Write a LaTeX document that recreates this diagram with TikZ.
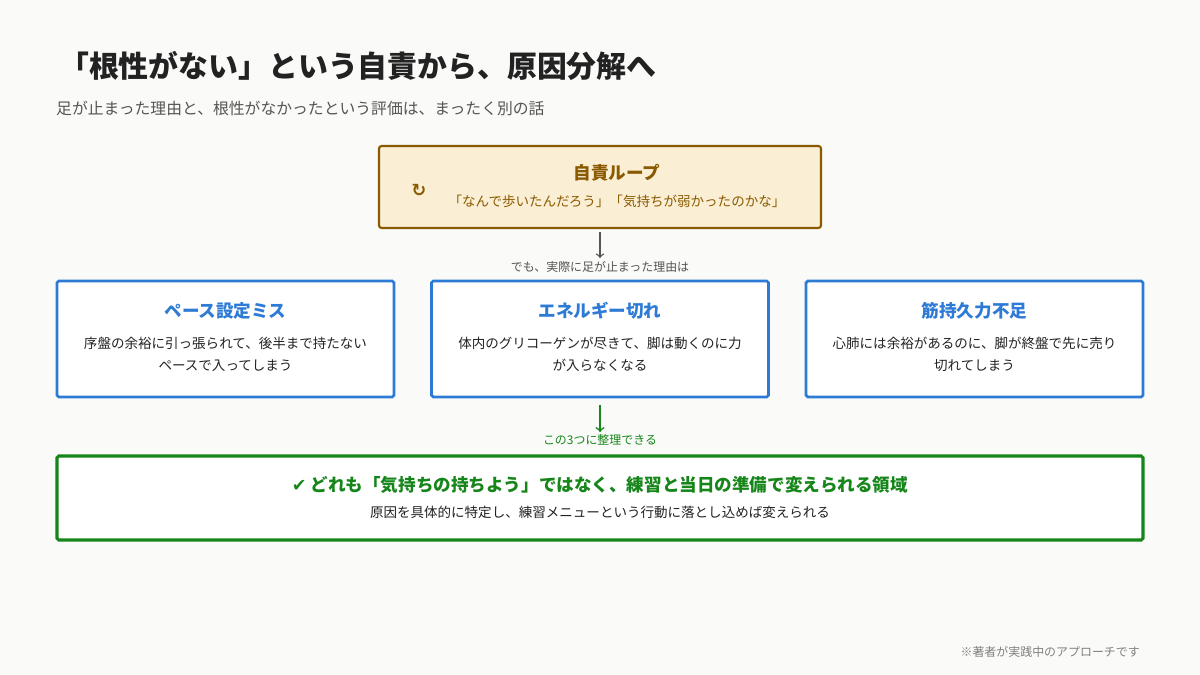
\documentclass[tikz,border=0pt]{standalone}
\usepackage{fontspec}
\setmainfont{Noto Sans CJK JP}
\newfontfamily\symfont{DejaVu Sans}
\usetikzlibrary{positioning}
\definecolor{bgcol}{HTML}{FAFAF8}
\definecolor{brown}{HTML}{8A5A00}
\definecolor{cream}{HTML}{FAEED4}
\definecolor{blue}{HTML}{2E7BD6}
\definecolor{green}{HTML}{16861A}
\definecolor{txt}{HTML}{222222}
\definecolor{sub}{HTML}{555555}
\tikzset{
  card/.style={draw=blue, line width=1.6pt, fill=white, rounded corners=1pt},
  ctitle/.style={text=blue, font=\fontsize{10}{12}\selectfont\bfseries},
  cbody/.style={text=txt, font=\fontsize{7.7}{12.4}\selectfont, align=center},
  note/.style={font=\fontsize{6.8}{8}\selectfont}
}
\begin{document}
\begin{tikzpicture}[x=0.02cm,y=-0.02cm]
            \fill[bgcol] (0,0) rectangle (1200,675);
            \useasboundingbox (0,0) rectangle (1200,675);
            % title
            \node[anchor=west, text=txt, font=\fontsize{17}{20}\selectfont\bfseries] (title) at (53,66) {「根性がない」という自責から、原因分解へ};
            \node[anchor=west, text=sub, font=\fontsize{9}{11}\selectfont] (subtitle) at (50,108) {足が止まった理由と、根性がなかったという評価は、まったく別の話};
            % self-blame loop
            \draw[brown, fill=cream, line width=1.2pt, rounded corners=1.5pt] (379,146) rectangle (821,228);
            \node[text=brown, font=\fontsize{10}{12}\selectfont\bfseries] (loop) at (617,173) {自責ループ};
            \node[text=brown, font=\fontsize{7.7}{9}\selectfont] (quote) at (617,201) {「なんで歩いたんだろう」「気持ちが弱かったのかな」};
            \node[text=brown, font=\fontsize{10}{12}\selectfont\bfseries\symfont] (icon) at (419,190) {↻};
            \coordinate (loopB) at (600,232);
            \coordinate (loopE) at (600,258);
            \draw[->, sub, line width=0.8pt] (loopB) -- (loopE);
            \node[text=sub, note] (but) at (600,267) {でも、実際に足が止まった理由は};
            % three causes
            \foreach \x/\n/\t/\b in {225.5/pace/ペース設定ミス/序盤の余裕に引っ張られて、後半まで持たない\\ペースで入ってしまう,
                                     600/energy/エネルギー切れ/体内のグリコーゲンが尽きて、脚は動くのに力\\が入らなくなる,
                                     974.5/muscle/筋持久力不足/心肺には余裕があるのに、脚が終盤で先に売り\\切れてしまう} {
                \draw[card] (\x-168.5,281) rectangle (\x+168.5,397);
                \node[ctitle] (\n) at (\x,311) {\t};
                \node[cbody, anchor=north] (\n b) at (\x,331) {\b};
            }
            \coordinate (sortB) at (600,405);
            \coordinate (sortE) at (600,432);
            \draw[->, green, line width=0.9pt] (sortB) -- (sortE);
            \node[text=green, note] (sort) at (600,440) {この3つに整理できる};
            % conclusion
            \draw[green, fill=white, line width=1.8pt, rounded corners=1pt] (57,456) rectangle (1143,540);
            \node[text=green, font=\fontsize{10}{12}\selectfont\bfseries] (concl) at (600,485) {{\symfont ✔} どれも「気持ちの持ちよう」ではなく、練習と当日の準備で変えられる領域};
            \node[text=txt, font=\fontsize{7.7}{9}\selectfont] (conclb) at (600,512) {原因を具体的に特定し、練習メニューという行動に落とし込めば変えられる};
            \node[anchor=east, text=gray, note] (foot) at (1146,652) {※著者が実践中のアプローチです};
\end{tikzpicture}
\end{document}
